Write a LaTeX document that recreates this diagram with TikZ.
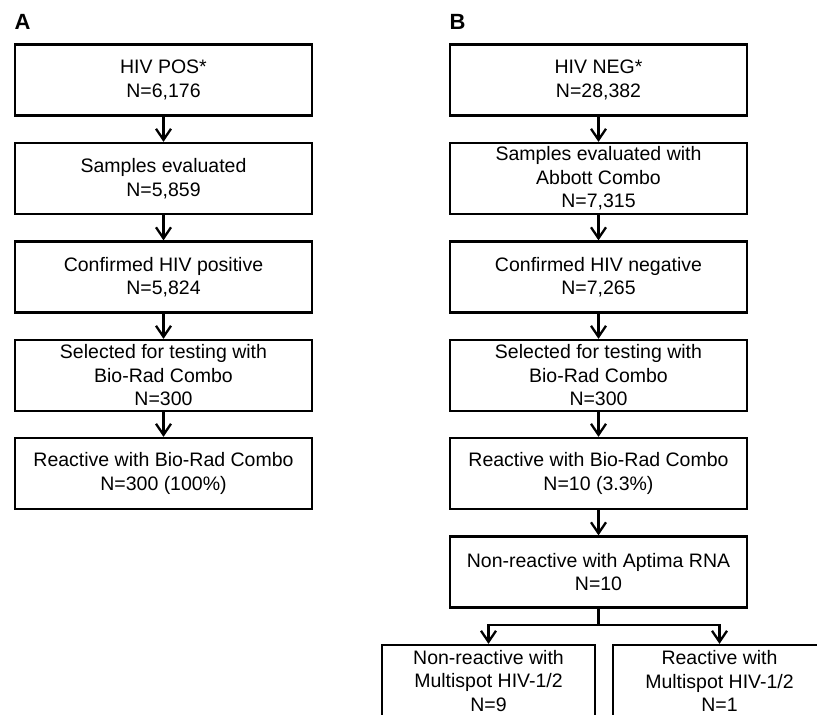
\documentclass[tikz,border=0pt]{standalone}
\usepackage{fontspec}
\setmainfont{Liberation Sans}
\usetikzlibrary{positioning,arrows.meta}

\begin{document}
\begin{tikzpicture}[
  x=1pt, y=-1pt,
  font=\fontsize{19.5}{23.5}\selectfont,
  >={Straight Barb[length=11pt, width=15pt]},
  flowbox/.style={draw=black, line width=2.3pt, minimum width=297pt, minimum height=71pt, inner sep=0pt, align=center},
  smallbox/.style={flowbox, minimum width=213pt, minimum height=72pt},
  panel/.style={font=\fontsize{22}{24}\selectfont\bfseries, anchor=center},
  arr/.style={->, line width=2.3pt}
]
\useasboundingbox (0,0) rectangle (817,715);
\clip (0,0) rectangle (817,715);

%% ============ Panel A: HIV positive (x = 163.5) ============
\node[panel]   (labA)   at (22.5,21.5)   {A};
\node[flowbox] (posA)   at (163.5,80)    {HIV POS*\\N=6,176};
\node[flowbox] (sampA)  at (163.5,178.5) {Samples evaluated\\N=5,859};
\node[flowbox] (confA)  at (163.5,277)   {Confirmed HIV positive\\N=5,824};
\node[flowbox] (selA)   at (163.5,375.5) {Selected for testing with\\Bio-Rad Combo\\N=300};
\node[flowbox] (reactA) at (163.5,473.5) {Reactive with Bio-Rad Combo\\N=300 (100\%)};

\draw[arr] (posA) -- (sampA);
\draw[arr] (sampA) -- (confA);
\draw[arr] (confA) -- (selA);
\draw[arr] (selA) -- (reactA);

%% ============ Panel B: HIV negative (x = 598.5) ============
\node[panel]   (labB)   at (457.5,21.5)  {B};
\node[flowbox] (negB)   at (598.5,80)    {HIV NEG*\\N=28,382};
\node[flowbox] (sampB)  at (598.5,178.5) {Samples evaluated with\\Abbott Combo\\N=7,315};
\node[flowbox] (confB)  at (598.5,277)   {Confirmed HIV negative\\N=7,265};
\node[flowbox] (selB)   at (598.5,375.5) {Selected for testing with\\Bio-Rad Combo\\N=300};
\node[flowbox] (reactB) at (598.5,473.5) {Reactive with Bio-Rad Combo\\N=10 (3.3\%)};
\node[flowbox] (aptB)   at (598.5,572)   {Non-reactive with Aptima RNA\\N=10};

\draw[arr] (negB) -- (sampB);
\draw[arr] (sampB) -- (confB);
\draw[arr] (confB) -- (selB);
\draw[arr] (selB) -- (reactB);
\draw[arr] (reactB) -- (aptB);

%% ============ Multispot split (y = 625), boxes run off the page ============
\node[smallbox] (nonMS)   at (488.5,681) {Non-reactive with\\Multispot HIV-1/2\\N=9};
\node[smallbox] (reactMS) at (719.5,681) {Reactive with\\Multispot HIV-1/2\\N=1};
\coordinate (split) at (598.5,625);

\draw[line width=2.3pt] (aptB.south) -- (split);
\draw[arr] (split) -| (nonMS.north);
\draw[arr] (split) -| (reactMS.north);

\end{tikzpicture}
\end{document}
